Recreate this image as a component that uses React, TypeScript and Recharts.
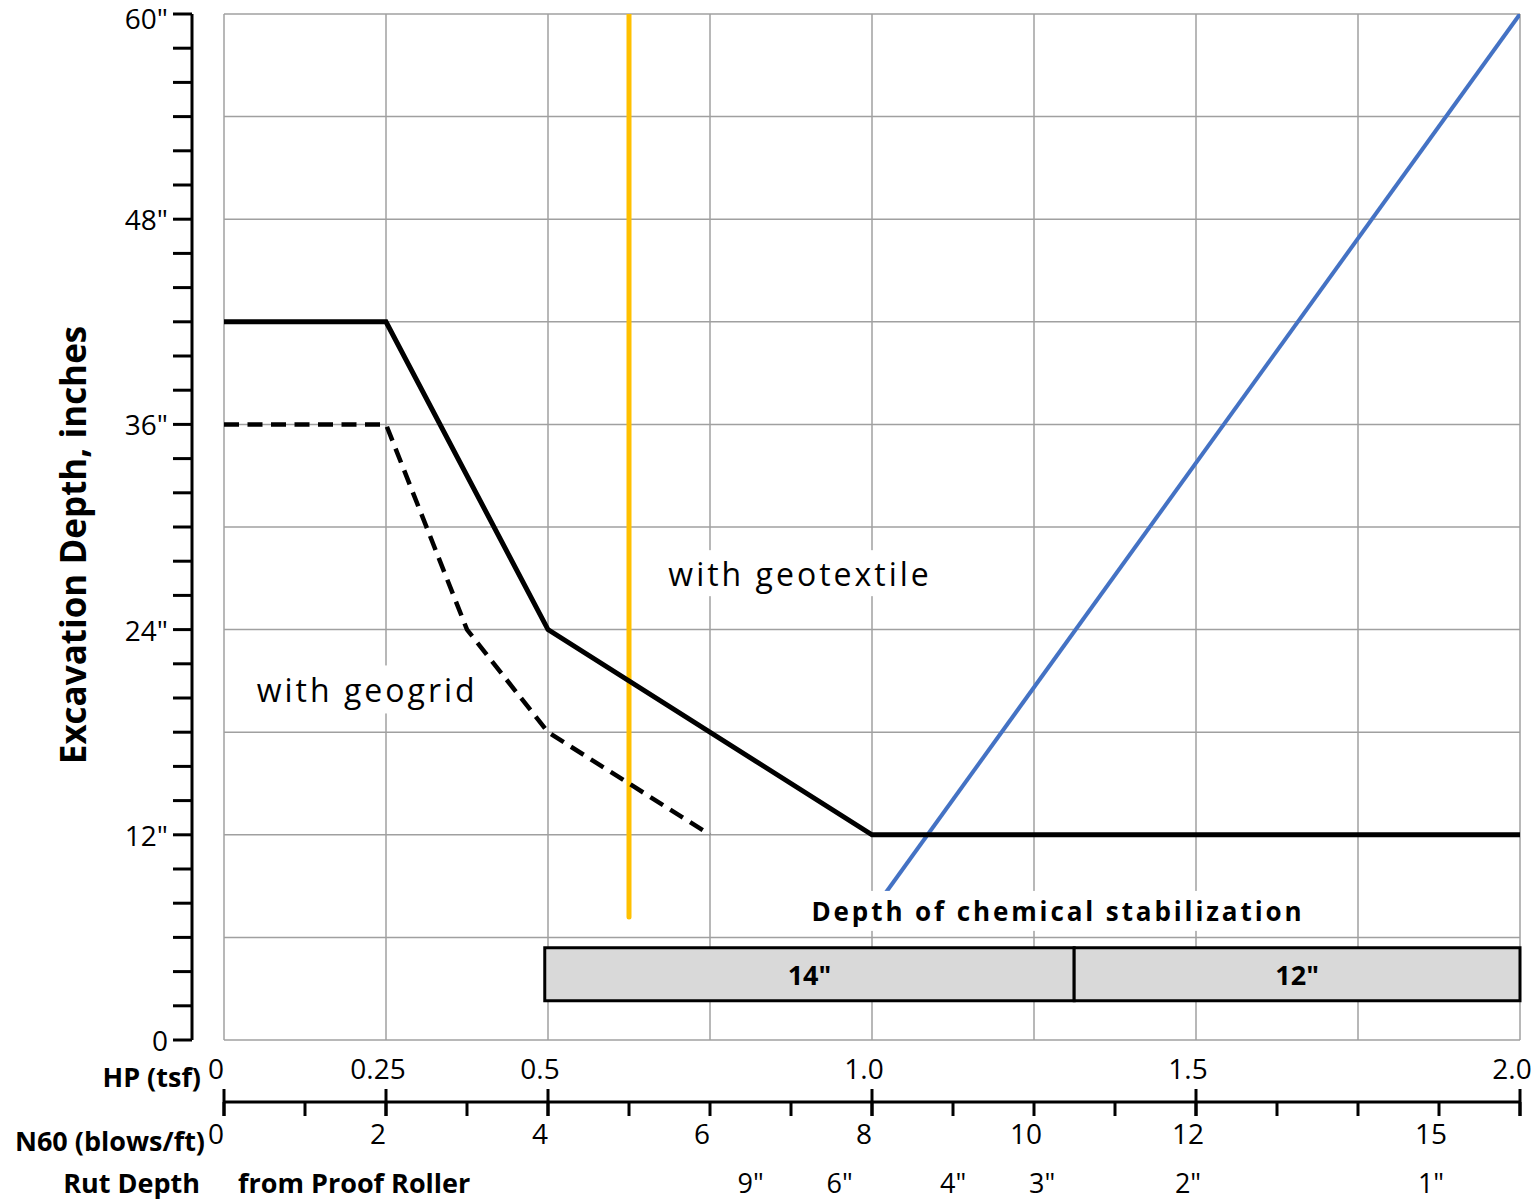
import { LineChart, Line, XAxis, YAxis, CartesianGrid, ReferenceLine, ReferenceArea, ReferenceDot } from 'recharts';

const FONT = '"Open Sans", sans-serif';

// HP (tsf) scale, the chart's x axis
const hpTicks = [0, 0.25, 0.5, 1.0, 1.5, 2.0];
const hpLabels = ['0', '0.25', '0.5', '1.0', '1.5', '2.0'];
const hpGrid = [0, 0.25, 0.5, 0.75, 1.0, 1.25, 1.5, 1.75, 2.0];

// N60 (blows/ft), drawn on a second scale under the HP one
const n60Ticks = [0, 1, 2, 3, 4, 5, 6, 7, 8, 9, 10, 11, 12, 13, 14, 15, 16];
const n60Labelled = [0, 2, 4, 6, 8, 10, 12, 15];

// rut depth from the proof roller, placed on the N60 scale
const rutN60 = [6.6, 7.7, 9.1, 10.2, 12, 15];
const rutLabels = ['9"', '6"', '4"', '3"', '2"', '1"'];

// excavation depth (inches)
const depthTicks = [0, 2, 4, 6, 8, 10, 12, 14, 16, 18, 20, 22, 24, 26, 28, 30, 32, 34, 36, 38, 40, 42, 44, 46, 48, 50, 52, 54, 56, 58, 60];
const depthLabelled = [0, 12, 24, 36, 48, 60];
const depthGrid = [0, 6, 12, 18, 24, 30, 36, 42, 48, 54, 60];

const geotextile = [
  { hp: 0, depth: 42 },
  { hp: 0.25, depth: 42 },
  { hp: 0.5, depth: 24 },
  { hp: 1.0, depth: 12 },
  { hp: 2.0, depth: 12 },
];
const geogrid = [
  { hp: 0, depth: 36 },
  { hp: 0.25, depth: 36 },
  { hp: 0.375, depth: 24 },
  { hp: 0.5, depth: 18 },
  { hp: 0.75, depth: 12 },
];
const yellowLine = [
  { hp: 0.625, depth: 7.2 },
  { hp: 0.625, depth: 60 },
];
const blueLine = [
  { hp: 1.0, depth: 7.5 },
  { hp: 2.0, depth: 60 },
];

// depth of chemical stabilization bands
const bandFrom = [0.495, 1.312];
const bandTo = [1.312, 2.0];
const bandLabels = ['14"', '12"'];
const bandDepth = [2.3, 5.4];

// text notes
const noteText = ['with geotextile', 'with geogrid', 'Depth of chemical stabilization'];
const noteHp = [0.889, 0.221, 1.287];
const noteDepth = [27.3, 20.5, 7.55];
const noteBox = [
  { w: 285, h: 46, size: 32, weight: 400, spacing: 3 },
  { w: 248, h: 48, size: 32, weight: 400, spacing: 3 },
  { w: 510, h: 40, size: 26, weight: 700, spacing: 2.9 },
];

const AXIS_GAP = 32; // y axis line sits left of the grid
const HP_PX = 648; // plot width per 1 tsf

// invisible series so the N60 and rut scales get their ticks
const n60Span = [{ n60: 0, depth: 0 }, { n60: 16, depth: 0 }];
const rutSpan = [{ rut: 0, depth: 0 }, { rut: 16, depth: 0 }];

function DepthTick(props: any) {
  const { x, y, payload } = props;
  const ax = x - AXIS_GAP;
  const v = payload.value;
  // top label is nudged down so it stays inside the page
  const ty = v === 60 ? y + 4 : y;
  return (
    <g>
      <line x1={ax - 19} x2={ax} y1={y} y2={y} stroke="#000" strokeWidth={3} />
      {depthLabelled.includes(v) && (
        <text x={ax - 24} y={ty} textAnchor="end" dominantBaseline="central" fontFamily={FONT} fontSize={28} fill="#000">
          {v === 0 ? '0' : `${v}"`}
        </text>
      )}
    </g>
  );
}

function HpTick(props: any) {
  const { x, y, payload } = props;
  const i = hpTicks.indexOf(payload.value);
  return (
    <g>
      <text x={x - 8} y={y + 28} textAnchor="middle" dominantBaseline="central" fontFamily={FONT} fontSize={28} fill="#000">
        {hpLabels[i]}
      </text>
      <line x1={x} x2={x} y1={y + 49} y2={y + 76} stroke="#000" strokeWidth={3} />
    </g>
  );
}

function N60Tick(props: any) {
  const { x, y, payload } = props;
  const v = payload.value;
  return (
    <g>
      <line x1={x} x2={x} y1={y} y2={y + 14} stroke="#000" strokeWidth={3} />
      {n60Labelled.includes(v) && (
        <text x={x - 8} y={y + 31} textAnchor="middle" dominantBaseline="central" fontFamily={FONT} fontSize={28} fill="#000">
          {v}
        </text>
      )}
    </g>
  );
}

function RutTick(props: any) {
  const { x, y, payload } = props;
  const i = rutN60.indexOf(payload.value);
  return (
    <text x={x - 8} y={y + 22} textAnchor="middle" dominantBaseline="central" fontFamily={FONT} fontSize={27} fill="#000">
      {rutLabels[i]}
    </text>
  );
}

const titleStyle = { fontFamily: FONT, fontSize: 27, fontWeight: 700, fill: '#000' };

function NoteLabel(props: any) {
  const { viewBox, idx } = props;
  const b = noteBox[idx];
  const cx = viewBox.x + (viewBox.width || 0) / 2;
  const cy = viewBox.y + (viewBox.height || 0) / 2;
  return (
    <g>
      <rect x={cx - b.w / 2} y={cy - b.h / 2} width={b.w} height={b.h} fill="#fff" />
      <text x={cx} y={cy} textAnchor="middle" dominantBaseline="central" fontFamily={FONT} fontSize={b.size}
        fontWeight={b.weight} style={{ letterSpacing: b.spacing }} fill="#000">
        {noteText[idx]}
      </text>
    </g>
  );
}

function BandLabel(props: any) {
  const { viewBox, text } = props;
  return (
    <text x={viewBox.x + viewBox.width / 2} y={viewBox.y + viewBox.height / 2} textAnchor="middle" dominantBaseline="central"
      fontFamily={FONT} fontSize={27} fontWeight={700} fill="#000">
      {text}
    </text>
  );
}

export default function App() {
  return (
    <div style={{ position: 'absolute', left: 0, top: 0, background: '#fff' }}>
      <LineChart width={1533} height={1201} margin={{ top: 14, right: 13, left: 24, bottom: 6 }}>
        <CartesianGrid xAxisId="hp" stroke="#a0a0a0" strokeWidth={1.5} verticalValues={hpGrid} horizontalValues={depthGrid} />
        <XAxis xAxisId="hp" type="number" dataKey="hp" domain={[0, 2]} allowDataOverflow ticks={hpTicks} interval={0}
          height={62} axisLine={false} tickLine={false} tickSize={0} tickMargin={0} tick={<HpTick />}
          label={{ content: (p: any) => (
            <text x={p.viewBox.x - 23} y={p.viewBox.y + 36} textAnchor="end" dominantBaseline="central" style={titleStyle}>HP (tsf)</text>
          ) }} />
        <XAxis xAxisId="n60" type="number" dataKey="n60" domain={[0, 16]} allowDataOverflow ticks={n60Ticks} interval={0}
          height={58} axisLine={{ stroke: '#000', strokeWidth: 3 }} tickLine={false} tickSize={0} tickMargin={0} tick={<N60Tick />}
          label={{ content: (p: any) => (
            <text x={p.viewBox.x - 19} y={p.viewBox.y + 38} textAnchor="end" dominantBaseline="central" style={titleStyle}>N60 (blows/ft)</text>
          ) }} />
        <XAxis xAxisId="rut" type="number" dataKey="rut" domain={[0, 16]} allowDataOverflow ticks={rutN60} interval={0}
          height={35} axisLine={false} tickLine={false} tickSize={0} tickMargin={0} tick={<RutTick />}
          label={{ content: (p: any) => (
            <g>
              <text x={p.viewBox.x - 24} y={p.viewBox.y + 22} textAnchor="end" dominantBaseline="central" style={titleStyle}>Rut Depth</text>
              <text x={p.viewBox.x + 14} y={p.viewBox.y + 22} textAnchor="start" dominantBaseline="central" style={titleStyle}>from Proof Roller</text>
            </g>
          ) }} />
        <YAxis type="number" domain={[0, 60]} allowDataOverflow ticks={depthTicks} interval={0} width={200}
          axisLine={false} tickLine={false} tickSize={0} tickMargin={0} tick={<DepthTick />}
          label={{ content: (p: any) => (
            <text x={72} y={p.viewBox.y + p.viewBox.height / 2 + 18} textAnchor="middle" dominantBaseline="central"
              transform={`rotate(-90, 72, ${p.viewBox.y + p.viewBox.height / 2 + 18})`}
              style={{ fontFamily: FONT, fontSize: 35, fontWeight: 700, fill: '#000' }}>
              Excavation Depth, inches
            </text>
          ) }} />
        <ReferenceLine xAxisId="hp" x={-AXIS_GAP / HP_PX} ifOverflow="visible" stroke="#000" strokeWidth={3} />
        {bandFrom.map((f, i) => (
          <ReferenceArea key={i} xAxisId="hp" x1={f} x2={bandTo[i]} y1={bandDepth[0]} y2={bandDepth[1]} ifOverflow="visible"
            fill="#d9d9d9" fillOpacity={1} stroke="#000" strokeWidth={3}
            label={(p: any) => <BandLabel {...p} text={bandLabels[i]} />} />
        ))}
        <Line xAxisId="n60" data={n60Span} dataKey="depth" stroke="none" dot={false} activeDot={false} isAnimationActive={false} />
        <Line xAxisId="rut" data={rutSpan} dataKey="depth" stroke="none" dot={false} activeDot={false} isAnimationActive={false} />
        <Line xAxisId="hp" data={blueLine} dataKey="depth" stroke="#4472c4" strokeWidth={4} dot={false} isAnimationActive={false} />
        <Line xAxisId="hp" data={yellowLine} dataKey="depth" stroke="#ffc000" strokeWidth={5} strokeLinecap="round" dot={false} isAnimationActive={false} />
        <Line xAxisId="hp" data={geogrid} dataKey="depth" stroke="#000" strokeWidth={4.5} strokeDasharray="15 8.5" dot={false} isAnimationActive={false} />
        <Line xAxisId="hp" data={geotextile} dataKey="depth" stroke="#000" strokeWidth={5} dot={false} isAnimationActive={false} />
        {noteText.map((t, i) => (
          <ReferenceDot key={t} xAxisId="hp" x={noteHp[i]} y={noteDepth[i]} r={0} fill="none" stroke="none"
            label={(p: any) => <NoteLabel {...p} idx={i} />} />
        ))}
      </LineChart>
    </div>
  );
}
